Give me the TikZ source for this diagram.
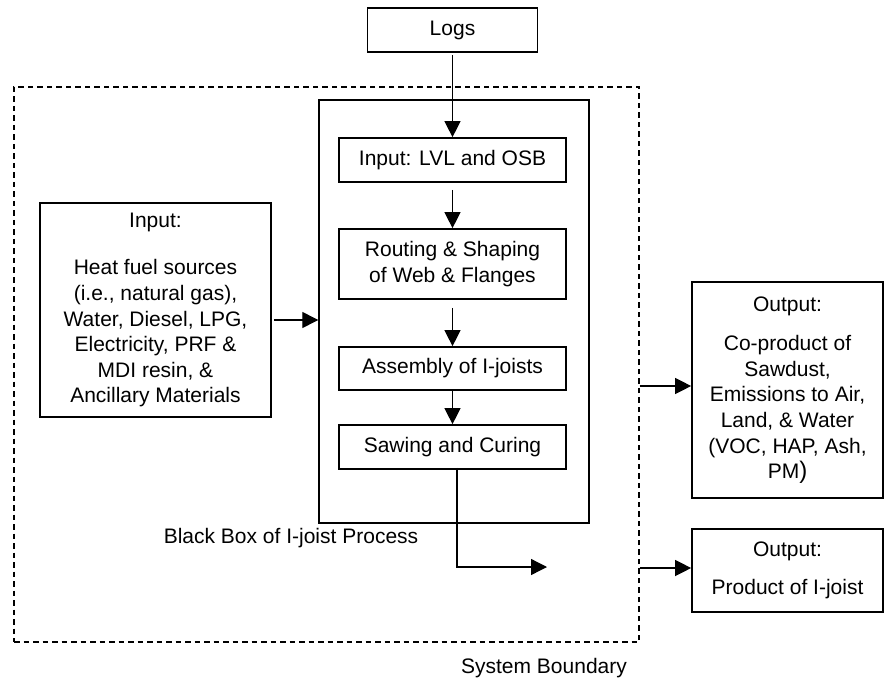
\documentclass[tikz,border=0pt]{standalone}
\usepackage{fontspec}
\setmainfont{Liberation Sans}
\usetikzlibrary{arrows.meta,calc}
\begin{document}
\begin{tikzpicture}[x=1pt,y=-1pt,
  every node/.style={font=\fontsize{21}{25.6}\selectfont, inner sep=0pt},
  box/.style={draw, line width=1.7pt, align=center},
  bbox/.style={draw, line width=1.4pt},
  sysb/.style={draw, line width=1.4pt, dash pattern=on 5.5pt off 4pt},
  arr/.style={line width=1.3pt, -{Triangle[length=16pt 0 0,width=16pt 0 0]}}]
\useasboundingbox (0,0) rectangle (890,679);

\node[box, minimum width=170pt, minimum height=44pt] (logs) at (452.5,30) {Logs};
\node[sysb, minimum width=625pt, minimum height=555pt] (sb) at (326.5,364.5) {};
\node[bbox, minimum width=270pt, minimum height=423pt] (bb) at (454,311.5) {};
\node[box, minimum width=227pt, minimum height=44pt] (lvl) at (452.5,160) {Input: LVL and OSB};
\node[box, minimum width=227pt, minimum height=70pt] (route) at (452.5,264) {Routing \& Shaping\\of Web \& Flanges};
\node[box, minimum width=227pt, minimum height=43pt] (asm) at (452.5,368.5) {Assembly of I-joists};
\node[box, minimum width=227pt, minimum height=44pt] (saw) at (452.5,447) {Sawing and Curing};
\node[box, minimum width=231pt, minimum height=214pt] (inp) at (155.5,310) {Input:\\[22pt]Heat fuel sources\\(i.e., natural gas),\\Water, Diesel, LPG,\\Electricity, PRF \&\\MDI resin, \&\\Ancillary Materials};
\node[box, minimum width=191pt, minimum height=216pt] (out1) at (787.5,390) {Output:\\[14pt]Co-product of\\Sawdust,\\Emissions to Air,\\Land, \& Water\\(VOC, HAP, Ash,\\PM{\fontsize{24}{25.6}\selectfont)}};
\node[box, minimum width=191pt, minimum height=83pt] (out2) at (787.5,570.5) {Output:\\[12pt]Product of I-joist};

\node (bblabel) at (291,538) {Black Box of I-joist Process};
\node (sblabel) at (544,668) {System Boundary};

\draw[arr, shorten <=2pt] (logs) -- (lvl);
\draw[arr, shorten <=7pt] (lvl) -- (route);
\draw[arr, shorten <=8pt] (route) -- (asm);
\draw[arr] (asm) -- (saw);
\draw[arr, shorten <=2pt] ([yshift=-10pt]inp.east) -- ([yshift=-10pt]inp.east -| bb.west);
\draw[arr] ([yshift=4pt]out1.west -| sb.east) -- ([yshift=4pt]out1.west);
\draw[arr] ([yshift=2.5pt]out2.west -| sb.east) -- ([yshift=2.5pt]out2.west);
\coordinate (sawend) at (547,567);
\draw[arr] ([xshift=4.5pt,yshift=2pt]saw.south) |- (sawend);
\end{tikzpicture}
\end{document}
